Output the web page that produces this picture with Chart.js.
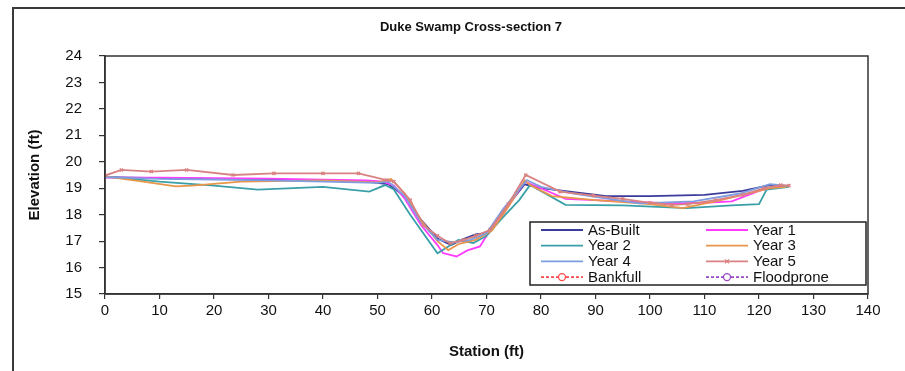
<!DOCTYPE html>
<html><head><meta charset="utf-8">
<script src="https://cdn.jsdelivr.net/npm/chart.js@4.4.0/dist/chart.umd.min.js"></script>
<style>
html,body{margin:0;padding:0;background:#fff;}
#wrap{position:relative;width:905px;height:371px;overflow:hidden;background:#fff;}
#frame{position:absolute;left:12px;top:7px;width:1000px;height:1000px;border:2px solid #3a3a3a;}
canvas{position:absolute;left:0;top:0;}
</style></head><body>
<div id="wrap"><div id="frame"></div><canvas id="c" width="905" height="371"></canvas></div>
<script>
const chartTitle = 'Duke Swamp Cross-section 7';
const xAxisTitle = 'Station (ft)';
const yAxisTitle = 'Elevation (ft)';
const seriesNames = ['As-Built','Year 1','Year 2','Year 3','Year 4','Year 5','Bankfull','Floodprone'];
const seriesColors = ['#3b3b9c','#ff3cff','#3aa0a8','#e8964a','#7f9de0','#d98282','#ff4a4a','#9a48c4'];

const asBuiltX = [0,10,20,30,40,48,50,52,55,58,61,63.5,66,68,70,73,77,80,86,92,100,110,117,122,125];
const asBuiltY = [19.42,19.38,19.35,19.32,19.28,19.25,19.2,19.15,18.7,17.8,17.1,16.85,17.1,17.25,17.3,18.1,19.15,19.0,18.85,18.7,18.7,18.75,18.9,19.12,19.05];

const year1X = [0,10,20,30,40,48,51,53,55,58,61,62,64.5,66.5,68.8,70,73,77,80,84.5,95,104,110,115,120,124];
const year1Y = [19.4,19.4,19.38,19.36,19.32,19.3,19.25,19.1,18.6,17.6,16.85,16.55,16.42,16.65,16.8,17.2,18.0,19.25,19.0,18.6,18.5,18.43,18.45,18.5,18.9,19.1];

const year2X = [0,10,20,28,40,48.5,51.4,53,56,61,63,64.8,67.6,70,73,76,78,84.5,95,106.7,115,120,121.4,125.5];
const year2Y = [19.45,19.25,19.1,18.95,19.05,18.87,19.12,18.95,18.0,16.54,16.8,17.04,16.93,17.2,17.9,18.55,19.12,18.37,18.35,18.25,18.35,18.4,18.95,19.05];

const year3X = [0,7,13,16,25,40,50,52.5,55,58,61,63,65,68,71,74,77,78,82,90,100,106,112,118,122,125];
const year3Y = [19.45,19.25,19.07,19.1,19.25,19.3,19.22,19.35,18.8,17.8,17.0,16.66,16.9,17.05,17.4,18.3,19.3,19.12,18.7,18.55,18.4,18.25,18.5,18.8,19.0,19.05];

const year4X = [0,10,20,30,40,50,52,55,58,61,64,67,70,73,77.4,80,86,98,108,116.5,122,125];
const year4Y = [19.42,19.35,19.33,19.3,19.25,19.2,19.25,18.7,17.7,17.05,16.95,17.05,17.3,18.2,19.31,19.05,18.8,18.43,18.5,18.8,19.15,19.1];

const year5X = [0,3,8.5,15,23.5,31,40,46.5,51.7,53,56,58.4,61,63.3,65.7,68,70.6,74,77.2,83.5,89.6,95,100,104,107,112,117,121,124,125.5];
const year5Y = [19.48,19.69,19.63,19.69,19.5,19.56,19.56,19.56,19.31,19.25,18.55,17.6,17.2,16.92,17.04,17.2,17.42,18.4,19.5,18.87,18.72,18.6,18.45,18.37,18.4,18.55,18.75,19.0,19.12,19.1];

const bankfullX = [];
const bankfullY = [];
const floodproneX = [];
const floodproneY = [];

const xs = [asBuiltX,year1X,year2X,year3X,year4X,year5X,bankfullX,floodproneX];
const ys = [asBuiltY,year1Y,year2Y,year3Y,year4Y,year5Y,bankfullY,floodproneY];

const datasets = seriesNames.map((name,i)=>{
  const dashed = i>=6;
  return {
    label: name,
    data: xs[i].map((x,k)=>({x:x,y:ys[i][k]})),
    borderColor: seriesColors[i],
    backgroundColor: seriesColors[i],
    borderWidth: 1.8,
    borderDash: dashed ? [3,2] : [],
    pointRadius: i===5 ? 2.2 : 0,
    pointStyle: i===5 ? 'crossRot' : 'circle',
    pointBorderWidth: 1.4,
    tension: 0,
    order: 8 - i
  };
});

const FONT = '"Liberation Sans", Arial, sans-serif';

const deco = {
  id:'deco',
  afterDraw(chart){
    const ctx = chart.ctx;
    const a = chart.chartArea;
    ctx.save();
    ctx.strokeStyle = '#333';
    ctx.lineWidth = 1.5;
    ctx.strokeRect(a.left, a.top, a.right-a.left, a.bottom-a.top);
    ctx.fillStyle = '#111';
    ctx.font = 'bold 13px ' + FONT;
    ctx.textAlign = 'center';
    ctx.textBaseline = 'middle';
    ctx.fillText(chartTitle, 471, 27);
    const bx = 530, by = 222, bw = 336, bh = 63;
    ctx.fillStyle = '#fff';
    ctx.fillRect(bx, by, bw, bh);
    ctx.strokeStyle = '#222';
    ctx.lineWidth = 1.5;
    ctx.strokeRect(bx, by, bw, bh);
    ctx.font = '15px ' + FONT;
    ctx.textAlign = 'left';
    chart.data.datasets.forEach((ds,i)=>{
      const col = i%2, row = Math.floor(i/2);
      const y = by + 8 + row*15.7;
      const x0 = bx + 11 + col*165, x1 = x0 + 42;
      ctx.strokeStyle = ds.borderColor;
      ctx.lineWidth = 1.8;
      ctx.setLineDash(ds.borderDash || []);
      ctx.beginPath(); ctx.moveTo(x0,y); ctx.lineTo(x1,y); ctx.stroke();
      ctx.setLineDash([]);
      const cx = (x0+x1)/2;
      if (i>=6){
        ctx.fillStyle='#fff';
        ctx.beginPath(); ctx.arc(cx,y,3.5,0,Math.PI*2); ctx.fill(); ctx.lineWidth=1.3; ctx.stroke();
      } else if (i===5){
        ctx.lineWidth=1.3;
        ctx.beginPath(); ctx.moveTo(cx-2,y-2); ctx.lineTo(cx+2,y+2); ctx.moveTo(cx+2,y-2); ctx.lineTo(cx-2,y+2); ctx.stroke();
      }
      ctx.fillStyle = '#111';
      ctx.fillText(ds.label, x1 + 5, y + 0.5);
    });
    ctx.restore();
  }
};

new Chart(document.getElementById('c'), {
  type:'line',
  data:{datasets:datasets},
  options:{
    responsive:false,
    animation:false,
    devicePixelRatio:1,
    layout:{padding:{left:26,right:37,top:56,bottom:0}},
    plugins:{legend:{display:false},title:{display:false},tooltip:{enabled:false}},
    scales:{
      x:{
        type:'linear', min:0, max:140,
        ticks:{stepSize:10, color:'#111', font:{size:15, family:FONT}, padding:3, maxRotation:0},
        grid:{display:true, drawOnChartArea:false, drawTicks:true, tickLength:5, color:'#333', lineWidth:1.2},
        border:{display:true, color:'#333', width:1.5},
        title:{display:true, text:xAxisTitle, color:'#111', font:{size:15, weight:'bold', family:FONT}, padding:{top:0,bottom:10}},
        afterFit(s){ s.height = 77; }
      },
      y:{
        type:'linear', min:15, max:24,
        ticks:{stepSize:1, color:'#111', font:{size:15, family:FONT}, padding:17},
        grid:{display:true, drawOnChartArea:false, drawTicks:true, tickLength:6, color:'#333', lineWidth:1.2},
        border:{display:true, color:'#333', width:1.5},
        title:{display:true, text:yAxisTitle, color:'#111', font:{size:15, weight:'bold', family:FONT}, padding:{top:0,bottom:0}},
        afterFit(s){ s.width = 79; }
      }
    }
  },
  plugins:[deco]
});
</script>
</body></html>
